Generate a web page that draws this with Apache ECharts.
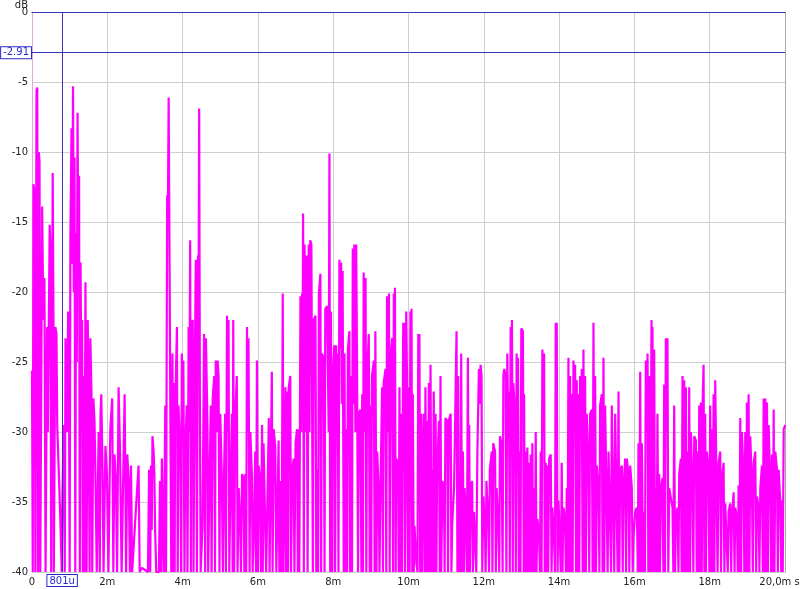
<!DOCTYPE html>
<html><head><meta charset="utf-8">
<script src="https://cdn.jsdelivr.net/npm/echarts@6/dist/echarts.min.js"></script>
<style>html,body{margin:0;padding:0;background:#fff}#c{width:800px;height:589px}</style>
</head><body><div id="c"></div>
<script>
// Time (ms) / level (dB) pairs, in six consecutive segments
const seg1 = [[0,-25.6],[0.02,-40],[0.04,-12.3],[0.07,-13],[0.09,-40],[0.12,-5.6],[0.14,-5.4],[0.16,-40],[0.18,-10],[0.2,-10.7],[0.22,-40],[0.27,-13.9],[0.3,-22],[0.33,-19],[0.36,-40],[0.4,-22.5],[0.42,-30],[0.47,-15.2],[0.49,-16.9],[0.51,-40],[0.55,-11.5],[0.57,-22],[0.58,-40],[0.62,-22.5],[0.65,-23],[0.67,-29.5],[0.71,-29.5],[0.75,-36],[0.79,-40],[0.8,-36],[0.84,-29.5],[0.87,-40],[0.89,-23.3],[0.93,-30],[0.96,-21.4],[0.98,-25],[1,-40],[1.02,-16],[1.05,-8.3],[1.07,-18],[1.09,-5.3],[1.11,-20],[1.13,-10.4],[1.15,-40],[1.17,-15.8],[1.19,-25],[1.21,-7.2],[1.23,-18],[1.25,-11.7],[1.27,-40],[1.29,-17.9],[1.32,-30],[1.33,-22],[1.35,-40],[1.37,-26],[1.39,-40],[1.42,-19.3],[1.45,-40],[1.48,-22],[1.5,-26],[1.53,-40],[1.55,-23.3],[1.58,-27.3],[1.6,-40],[1.63,-27.6],[1.66,-29.2],[1.69,-34],[1.72,-40],[1.77,-30],[1.8,-40],[1.82,-28.7],[1.84,-27.3],[1.87,-32],[1.9,-40],[1.95,-31],[1.99,-33],[2.03,-40],[2.08,-29.8],[2.13,-27.6],[2.16,-40],[2.19,-31.6],[2.23,-33.5],[2.26,-40],[2.3,-26.8],[2.34,-31.6],[2.38,-40],[2.46,-27.3],[2.5,-40],[2.53,-31.6],[2.57,-33.5],[2.6,-40]];
const seg2 = [[2.63,-32.4],[2.66,-40],[2.83,-32.4],[2.86,-40],[2.92,-39.7],[3.08,-40],[3.11,-32.7],[3.14,-40],[3.16,-32.4],[3.18,-37],[3.2,-30.3],[3.23,-31.4],[3.25,-33],[3.27,-37],[3.3,-40],[3.37,-40],[3.4,-33.5],[3.43,-40],[3.45,-31.9],[3.47,-35.4],[3.5,-40],[3.54,-28.1],[3.56,-40],[3.59,-13.1],[3.61,-14],[3.63,-6.1],[3.66,-6.2],[3.68,-31.4],[3.7,-40],[3.73,-24.4],[3.75,-40],[3.77,-26.5],[3.79,-40],[3.8,-28.7],[3.85,-22.5],[3.87,-40],[3.89,-28.1],[3.94,-31.4],[3.96,-40],[3.98,-24.4],[4,-30],[4.02,-24.9],[4.05,-40],[4.07,-31.4],[4.11,-28.1],[4.13,-40],[4.16,-22.5],[4.18,-30],[4.2,-16.3],[4.22,-40],[4.23,-22.2],[4.27,-22],[4.29,-40],[4.31,-30],[4.35,-17.7],[4.38,-40],[4.41,-17.4],[4.425,-20],[4.44,-6.9],[4.46,-28.7],[4.48,-40],[4.53,-36.7],[4.57,-23],[4.6,-40],[4.62,-23.3],[4.66,-29.5],[4.68,-40],[4.71,-34],[4.75,-28.1],[4.77,-40],[4.8,-27.6],[4.84,-26],[4.86,-40],[4.88,-24.9],[4.91,-30],[4.93,-24.9],[4.955,-26],[4.98,-40],[5,-28.7],[5.04,-33],[5.07,-40],[5.09,-34.6],[5.13,-28.7],[5.15,-40],[5.18,-21.7],[5.2,-30],[5.22,-22],[5.24,-40],[5.27,-34],[5.31,-28.7],[5.33,-40],[5.345,-22],[5.37,-40],[5.4,-28.7],[5.44,-26],[5.46,-40],[5.49,-34],[5.53,-36.7],[5.55,-40],[5.58,-33],[5.62,-33.3],[5.64,-40],[5.665,-33],[5.69,-40],[5.71,-22.5],[5.73,-30],[5.75,-23.3],[5.78,-40],[5.8,-30],[5.84,-33],[5.86,-40],[5.89,-37.3],[5.93,-31.4],[5.95,-40],[5.975,-24.9],[6,-40],[6.02,-32.4],[6.06,-33.5]];
const seg3 = [[6.08,-40],[6.11,-29.5],[6.13,-40],[6.15,-30.8],[6.2,-30.8],[6.22,-40],[6.29,-29],[6.31,-40],[6.37,-25.7],[6.39,-40],[6.42,-29.8],[6.46,-31.1],[6.49,-40],[6.55,-30.6],[6.57,-40],[6.6,-33.5],[6.63,-40],[6.66,-20.1],[6.68,-40],[6.73,-26.8],[6.75,-40],[6.77,-27.1],[6.8,-40],[6.82,-26.8],[6.86,-26],[6.88,-40],[6.91,-32.7],[6.95,-31.9],[6.97,-40],[7,-30.8],[7.04,-29.8],[7.06,-40],[7.08,-29.8],[7.1,-40],[7.13,-20.3],[7.15,-30],[7.17,-20.1],[7.185,-28],[7.2,-14.4],[7.22,-40],[7.24,-16.6],[7.26,-30],[7.29,-17.4],[7.32,-40],[7.35,-16.6],[7.37,-30],[7.39,-16.3],[7.42,-16.6],[7.46,-40],[7.48,-22],[7.53,-21.7],[7.55,-40],[7.57,-32.7],[7.6,-40],[7.62,-20.1],[7.66,-18.7],[7.68,-40],[7.7,-24.4],[7.75,-24.7],[7.77,-40],[7.79,-21.2],[7.84,-21],[7.86,-20.9],[7.88,-30],[7.9,-10.1],[7.92,-40],[7.94,-21.4],[7.97,-40],[7.99,-26],[8.03,-23.8],[8.05,-40],[8.08,-23.8],[8.1,-30],[8.12,-24.4],[8.14,-40],[8.165,-17.7],[8.19,-24],[8.21,-17.9],[8.23,-28],[8.25,-18.5],[8.28,-40],[8.3,-24.4],[8.32,-40],[8.34,-29.8],[8.37,-40],[8.39,-24.1],[8.43,-22.8],[8.45,-40],[8.475,-26],[8.5,-40],[8.52,-16.9],[8.54,-28],[8.56,-16.6],[8.59,-30],[8.61,-16.6],[8.63,-23.8],[8.66,-40],[8.68,-28.7],[8.72,-28.4],[8.75,-40],[8.77,-27.3],[8.79,-40],[8.81,-18.6],[8.83,-30],[8.86,-19],[8.88,-40],[8.9,-26],[8.945,-23],[8.97,-40],[8.99,-28.1],[9.01,-40],[9.03,-26],[9.08,-24.9],[9.1,-40],[9.12,-22.8],[9.15,-40],[9.17,-31.4],[9.21,-34.6],[9.23,-40],[9.255,-34],[9.3,-26.8],[9.32,-40],[9.34,-26.5],[9.39,-25.5],[9.41,-40],[9.43,-20.3],[9.45,-30],[9.48,-20.1],[9.5,-40],[9.52,-24.9]];
const seg4 = [[9.565,-23.3],[9.59,-40],[9.61,-20.1],[9.625,-30],[9.64,-19.7],[9.66,-40],[9.67,-31.9],[9.72,-32.2],[9.74,-40],[9.76,-26.8],[9.79,-40],[9.805,-28.7],[9.83,-40],[9.86,-22.2],[9.875,-30],[9.89,-22.2],[9.91,-40],[9.94,-21.4],[9.96,-26],[9.99,-40],[10.01,-26.8],[10.03,-40],[10.05,-21.4],[10.065,-28],[10.08,-21.2],[10.1,-40],[10.115,-27.3],[10.14,-40],[10.16,-36.7],[10.21,-39.4],[10.24,-40],[10.26,-23],[10.275,-30],[10.29,-23],[10.31,-40],[10.34,-28.7],[10.36,-40],[10.38,-33],[10.41,-28.7],[10.43,-40],[10.45,-26.8],[10.48,-40],[10.5,-29.2],[10.52,-40],[10.54,-26.5],[10.56,-40],[10.585,-25.2],[10.61,-40],[10.63,-32.7],[10.65,-40],[10.67,-27.1],[10.7,-40],[10.72,-28.7],[10.74,-40],[10.76,-32.7],[10.81,-29.2],[10.83,-40],[10.85,-26],[10.87,-40],[10.9,-33.5],[10.94,-34],[10.96,-40],[10.98,-29],[11.03,-29.2],[11.05,-40],[11.07,-29.2],[11.12,-28.7],[11.14,-40],[11.16,-36.7],[11.21,-34],[11.25,-34],[11.276,-22.8],[11.3,-40],[11.32,-26],[11.34,-40],[11.356,-34],[11.38,-40],[11.4,-24.4],[11.42,-40],[11.445,-31.4],[11.47,-40],[11.49,-34],[11.52,-35.7],[11.55,-40],[11.578,-24.7],[11.6,-40],[11.613,-29.5],[11.63,-40],[11.65,-34],[11.69,-33.5],[11.71,-40],[11.74,-35.7],[11.78,-35.7],[11.8,-40],[11.83,-31.4],[11.87,-25.5],[11.89,-28],[11.915,-25.2],[11.94,-26],[11.96,-40],[11.99,-34.6],[12.03,-36.7],[12.05,-40],[12.07,-33.5],[12.12,-36.7],[12.14,-40],[12.16,-32.7],[12.21,-31.4],[12.23,-40],[12.25,-30.8],[12.3,-31.4],[12.32,-40],[12.34,-34],[12.385,-36.7],[12.41,-40],[12.43,-30.3],[12.47,-30.8],[12.5,-40],[12.52,-26],[12.544,-25.5],[12.58,-26],[12.6,-40],[12.624,-24.4],[12.65,-30],[12.668,-27.1],[12.69,-40],[12.713,-22.5],[12.73,-30],[12.748,-22],[12.77,-40],[12.784,-26.5],[12.83,-28.7],[12.85,-40],[12.872,-24.4],[12.89,-30],[12.908,-24.7],[12.93,-40],[12.952,-31.4],[12.975,-40],[12.996,-22.6],[13.04,-22.8],[13.06,-40]];
const seg5 = [[13.07,-27.3],[13.09,-40],[13.11,-31.4],[13.135,-40],[13.157,-31.1],[13.18,-40],[13.2,-32.2],[13.225,-40],[13.246,-31.6],[13.27,-40],[13.29,-30.8],[13.31,-40],[13.335,-34],[13.36,-40],[13.379,-30],[13.4,-40],[13.423,-36.2],[13.468,-37.3],[13.49,-40],[13.512,-31.4],[13.535,-40],[13.556,-24.1],[13.58,-30],[13.601,-24.4],[13.62,-40],[13.645,-32.2],[13.67,-40],[13.689,-32.4],[13.71,-40],[13.734,-31.9],[13.778,-31.6],[13.8,-40],[13.822,-35.4],[13.867,-37.8],[13.89,-40],[13.911,-22.2],[13.925,-30],[13.937,-22.2],[13.96,-40],[13.982,-34.9],[14.026,-34.9],[14.05,-40],[14.07,-32.2],[14.09,-40],[14.115,-35.4],[14.159,-36.2],[14.18,-40],[14.203,-34],[14.225,-40],[14.248,-24.7],[14.27,-40],[14.292,-26],[14.315,-40],[14.336,-27.3],[14.36,-40],[14.381,-24.9],[14.4,-30],[14.425,-25.2],[14.45,-40],[14.469,-26.3],[14.49,-40],[14.514,-27.3],[14.535,-40],[14.558,-26],[14.58,-30],[14.602,-25.5],[14.625,-40],[14.647,-24.1],[14.67,-40],[14.691,-26],[14.71,-40],[14.735,-28.7],[14.78,-32.4],[14.8,-40],[14.824,-28.7],[14.868,-28.4],[14.89,-40],[14.913,-22.2],[14.935,-40],[14.957,-26],[14.98,-40],[15.001,-32.4],[15.046,-34],[15.07,-40],[15.09,-28.1],[15.134,-27.3],[15.155,-40],[15.179,-24.7],[15.2,-40],[15.223,-28.1],[15.267,-28.1],[15.29,-40],[15.312,-31.4],[15.356,-36.7],[15.38,-40],[15.4,-28.1],[15.445,-28.1],[15.465,-40],[15.489,-28.7],[15.533,-28.7],[15.555,-40],[15.578,-27.1],[15.6,-40],[15.622,-32.7],[15.666,-32.4],[15.69,-40],[15.711,-34],[15.755,-31.9],[15.78,-40],[15.799,-31.9],[15.843,-33],[15.865,-40],[15.888,-32.4],[15.932,-34],[15.955,-40],[15.976,-37.5],[16.021,-35.7],[16.065,-35.4],[16.09,-40],[16.109,-30.8],[16.13,-40],[16.154,-25.7],[16.175,-40],[16.198,-30.8],[16.23,-40],[16.26,-35.7],[16.28,-40],[16.304,-24.9],[16.325,-30],[16.349,-24.4],[16.37,-40],[16.393,-26],[16.42,-40],[16.455,-22],[16.47,-40]];
const seg6 = [[16.48,-22.5],[16.5,-40],[16.525,-24.1],[16.55,-40],[16.569,-34],[16.59,-40],[16.613,-28.7],[16.635,-40],[16.658,-33],[16.68,-40],[16.702,-34],[16.746,-33.3],[16.77,-40],[16.791,-26.6],[16.81,-40],[16.835,-23.3],[16.855,-30],[16.879,-23.3],[16.9,-40],[16.924,-34],[16.968,-34],[17.012,-35.4],[17.035,-40],[17.057,-28.1],[17.08,-40],[17.101,-36.2],[17.145,-35.4],[17.17,-40],[17.19,-33],[17.234,-31.9],[17.255,-40],[17.278,-26],[17.3,-40],[17.323,-26.3],[17.345,-40],[17.367,-26.8],[17.39,-40],[17.411,-31.4],[17.435,-40],[17.456,-26.8],[17.48,-40],[17.5,-30],[17.544,-34],[17.565,-40],[17.589,-30.3],[17.633,-30.6],[17.655,-40],[17.677,-31.4],[17.7,-40],[17.722,-28.1],[17.745,-40],[17.766,-27.9],[17.79,-40],[17.81,-28.1],[17.837,-25.2],[17.86,-40],[17.881,-28.7],[17.9,-40],[17.925,-31.4],[17.97,-32.7],[17.99,-40],[18.014,-28.1],[18.035,-40],[18.058,-29.8],[18.08,-40],[18.103,-27.3],[18.125,-40],[18.147,-26.3],[18.191,-26.3],[18.21,-40],[18.236,-32.2],[18.28,-31.4],[18.3,-40],[18.324,-33.3],[18.369,-32.2],[18.39,-40],[18.413,-35.1],[18.457,-35.1],[18.48,-40],[18.502,-35.7],[18.546,-35.1],[18.57,-40],[18.59,-36.2],[18.635,-34.3],[18.66,-40],[18.679,-35.4],[18.723,-36.2],[18.745,-40],[18.768,-33.8],[18.79,-40],[18.812,-29],[18.835,-40],[18.856,-30],[18.901,-33.3],[18.92,-40],[18.945,-30],[18.965,-40],[18.989,-27.9],[19.01,-40],[19.034,-27.3],[19.055,-40],[19.078,-30.3],[19.122,-34],[19.145,-40],[19.167,-32.2],[19.211,-31.4],[19.235,-40],[19.255,-34.6],[19.3,-35.4],[19.32,-40],[19.344,-34],[19.388,-32.4],[19.41,-40],[19.433,-27.6],[19.455,-40],[19.477,-27.6],[19.5,-40],[19.521,-27.9],[19.545,-40],[19.566,-29.5],[19.61,-34],[19.63,-40],[19.654,-31.6],[19.68,-40],[19.699,-28.4],[19.72,-40],[19.743,-31.4],[19.787,-32.7],[19.81,-40],[19.832,-32.7],[19.876,-35.1],[19.9,-40],[19.92,-34.9],[19.94,-40],[19.965,-29.8],[20.009,-29.5]];

const cursorTimeMs = 0.801;
const cursorTimeLabel = '801u';
const cursorLevelDb = -2.91;
const cursorLevelLabel = '-2.91';

const etc = [].concat(seg1, seg2, seg3, seg4, seg5, seg6);
const chart = echarts.init(document.getElementById('c'), null, {renderer: 'canvas'});
const font = 'DejaVu Sans';
const navy = '#3434b4';
chart.setOption({
  animation: false,
  backgroundColor: '#ffffff',
  grid: {left: 32, right: 15, top: 12, bottom: 17, outerBoundsMode: 'none', containLabel: false},
  xAxis: [{
    type: 'value', min: 0, max: 20, interval: 2,
    axisLine: {show: true, lineStyle: {color: '#a8a8a8', width: 1}},
    axisTick: {show: false},
    splitLine: {show: true, lineStyle: {color: '#cfcfcf', width: 1}},
    axisLabel: {color: '#222', fontFamily: font, fontSize: 10, margin: 5, hideOverlap: false,
      formatter: v => v === 0 ? '0' : (v === 20 ? '{last|20,0m s}' : v + 'm'),
      rich: {last: {color: '#222', fontFamily: font, fontSize: 10, padding: [0, 11, 0, 0]}}}
  }, {
    type: 'value', min: 0, max: 20, position: 'top',
    axisLine: {show: true, onZero: false, lineStyle: {color: navy, width: 1}},
    axisTick: {show: false}, axisLabel: {show: false}, splitLine: {show: false}
  }],
  yAxis: [{
    type: 'value', min: -40, max: 0, interval: 5,
    name: 'dB', nameLocation: 'end', nameGap: 2, nameMoveOverlap: false,
    nameTextStyle: {color: '#222', fontFamily: font, fontSize: 10, lineHeight: 10, align: 'right', verticalAlign: 'bottom', padding: [0, 4, 0, 0]},
    axisLine: {show: true, onZero: false, lineStyle: {color: '#e8a6d6', width: 1}},
    axisTick: {show: false},
    splitLine: {show: true, lineStyle: {color: '#cfcfcf', width: 1}},
    axisLabel: {color: '#222', fontFamily: font, fontSize: 10, margin: 4}
  }, {
    type: 'value', min: -40, max: 0, position: 'right',
    axisLine: {show: true, onZero: false, lineStyle: {color: '#a8a8a8', width: 1}},
    axisTick: {show: false}, axisLabel: {show: false}, splitLine: {show: false}
  }],
  series: [{
    type: 'line',
    data: etc,
    showSymbol: false,
    symbol: 'none',
    sampling: null,
    clip: true,
    lineStyle: {color: '#ff00ff', width: 2.2},
    markLine: {
      silent: true, symbol: ['none', 'none'], animation: false,
      lineStyle: {color: navy, width: 1, type: 'solid'},
      data: [
        {yAxis: cursorLevelDb, label: {show: true, position: 'start', formatter: cursorLevelLabel,
          color: '#2a2acc', fontFamily: font, fontSize: 10, borderColor: '#2a2acc', borderWidth: 1,
          backgroundColor: '#fff', padding: [1, 2, 0, 2], distance: 1}},
        {xAxis: cursorTimeMs, label: {show: true, position: 'start', formatter: cursorTimeLabel,
          color: '#2a2acc', fontFamily: font, fontSize: 10, borderColor: '#2a2acc', borderWidth: 1,
          backgroundColor: '#fff', padding: [1, 2, 0, 2], distance: 3}}
      ]
    }
  }]
});
</script></body></html>
